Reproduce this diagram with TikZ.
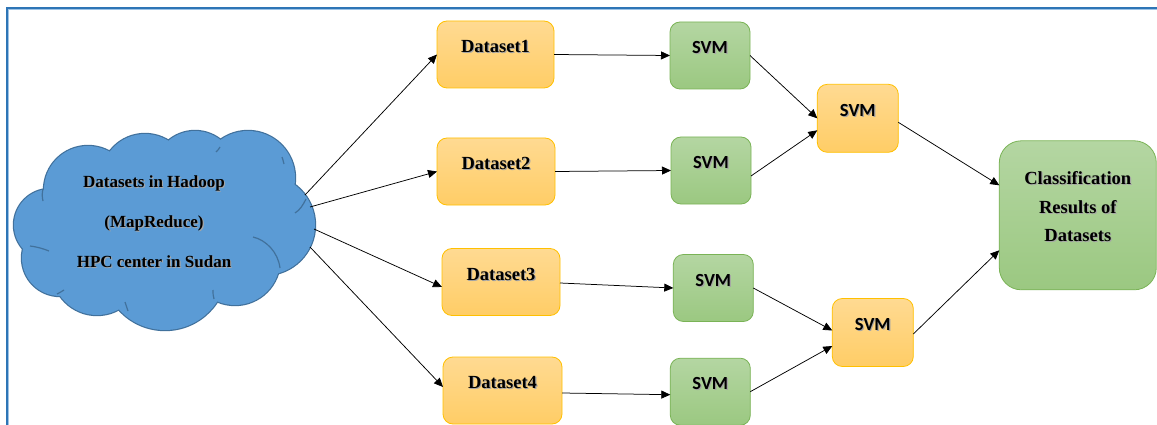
\documentclass[tikz,border=0pt]{standalone}
\usepackage{fontspec}
\setmainfont{Liberation Serif}
\newfontfamily\timesfont{Liberation Serif}
\newfontfamily\carlito{Carlito}
\usetikzlibrary{arrows.meta}

\definecolor{cloudfill}{HTML}{5B9BD5}
\definecolor{cloudline}{HTML}{41719C}
\definecolor{dsTop}{HTML}{FFDA92}
\definecolor{dsBot}{HTML}{FFCD66}
\definecolor{dsLine}{HTML}{FFC000}
\definecolor{svTop}{HTML}{B4D6A2}
\definecolor{svBot}{HTML}{9BC881}
\definecolor{svLine}{HTML}{7AB356}
\definecolor{frameblue}{HTML}{2E75B6}
\definecolor{framelight}{HTML}{9DC3E6}

% text with a soft drop shadow
\newcommand\shd[1]{\leavevmode\rlap{\kern1.1pt\raisebox{-1.1pt}{\textcolor{black!35}{#1}}}#1}

% the cloud as a union of puffs plus an inner filler
\newcommand\cloudpuffs{%
  (50,225) circle[radius=36pt]
  (88,190) circle[radius=44pt]
  (145,178) circle[radius=44pt]
  (195,172) circle[radius=41pt]
  (248,178) circle[radius=47pt]
  (265,225) circle[radius=50pt]
  (235,260) circle[radius=45pt]
  (165,268) circle[radius=62pt]
  (97,270) circle[radius=45pt]
  (60,258) circle[radius=38pt]
  (165,228) ellipse[x radius=110pt, y radius=60pt]}

\tikzset{
  box/.style={rectangle, rounded corners=10pt, inner sep=0pt, outer sep=0pt,
    line width=0.8pt, text height=14pt, text depth=18pt},
  dset/.style={box, draw=dsLine, top color=dsTop, bottom color=dsBot,
    minimum height=67pt, font=\fontsize{18.5}{22}\selectfont\timesfont\bfseries},
  svm/.style={box, draw=svLine, top color=svTop, bottom color=svBot,
    minimum width=80pt, minimum height=67pt,
    font=\fontsize{18.5}{22}\selectfont\carlito\bfseries},
  merge/.style={svm, draw=dsLine, top color=dsTop, bottom color=dsBot,
    minimum width=81pt, minimum height=68pt},
  result/.style={rectangle, rounded corners=22pt, inner sep=0pt, outer sep=0pt,
    line width=0.8pt, draw=svLine, top color=svTop, bottom color=svBot,
    minimum width=157pt, minimum height=149pt},
  arr/.style={-{Triangle[length=9pt,width=8pt]}, line width=0.75pt, black},
  hook/.style={draw=cloudline, line width=1.2pt},
}

\begin{document}
\begin{tikzpicture}[x=1pt,y=-1pt]
\useasboundingbox (0,0) rectangle (1157,425);
\clip (0,0) rectangle (1157,425);

% outer frame
\draw[framelight, line width=1pt] (8.8,440) -- (8.8,9.8) -- (1170,9.8);
\draw[frameblue, line width=1.6pt] (7,440) -- (7,8) -- (1170,8);

% cloud
\draw[cloudline, line width=2.4pt] \cloudpuffs;
\fill[cloudfill] \cloudpuffs;
\draw[hook] (253,237) .. controls (266,240) and (278,252) .. (280,268);
\draw[hook] (306,199) .. controls (303,205) and (300,210) .. (295,213);
\draw[hook] (30,246) .. controls (38,247) and (44,249) .. (49,251);
\draw[hook] (43,201) .. controls (42,197) and (42,193) .. (43,189);
\draw[hook] (57,294) .. controls (59,293) and (61,292) .. (64,290);
\draw[hook] (125,302) .. controls (126,305) and (127,308) .. (128,311);
\draw[hook] (213,290) .. controls (213,293) and (213,296) .. (214,299);
\draw[hook] (282,157) .. controls (283,159) and (283,161) .. (284,164);
\draw[hook] (220,147) .. controls (219,149) and (218,150) .. (216,152);
\coordinate (cloud) at (165,230);
\node[align=center, font=\fontsize{17}{40}\selectfont\timesfont\bfseries, inner sep=0pt]
  (cloudtext) at (154,222)
  {\shd{Datasets in Hadoop}\\\shd{(MapReduce)}\\\shd{HPC center in Sudan}};

% exits on the cloud rim
\coordinate (cA) at (305,195);
\coordinate (cB) at (310,207);
\coordinate (cC) at (314,229);
\coordinate (cD) at (310,247);

% datasets
\node[dset, minimum width=117pt] (d1) at (495.5,54.5) {\shd{Dataset1}};
\node[dset, minimum width=118pt] (d2) at (496,171.5) {\shd{Dataset2}};
\node[dset, minimum width=118pt] (d3) at (501,282) {\shd{Dataset3}};
\node[dset, minimum width=119pt] (d4) at (502.5,390.5) {\shd{Dataset4}};

% first-level classifiers
\node[svm] (s1) at (710,55.5) {\shd{SVM}};
\node[svm] (s2) at (711,170.5) {\shd{SVM}};
\node[svm] (s3) at (713.3,288) {\shd{SVM}};
\node[svm] (s4) at (710.3,391.7) {\shd{SVM}};

% merging classifiers
\node[merge] (m1) at (857.8,118.3) {\shd{SVM}};
\node[merge] (m2) at (872.8,332.5) {\shd{SVM}};

% final result
\node[result, label={[name=restext, align=center, inner sep=0pt,
    font=\fontsize{18.5}{28.3}\selectfont\timesfont\bfseries, yshift=8pt]center:%
    {\shd{Classification}\\\shd{Results of}\\\shd{Datasets}}}]
  (cl) at (1077.8,215.3) {};

% connectors
\draw[arr] (cA) -- (d1.west);
\draw[arr] (cB) -- (d2.west);
\draw[arr] (cC) -- ([yshift=-5pt]d3.west);
\draw[arr] (cD) -- ([yshift=3.5pt]d4.west);
\draw[arr] (d1.east) -- (s1.west);
\draw[arr] (d2.east) -- (s2.west);
\draw[arr] ([yshift=-1pt]d3.east) -- (s3.west);
\draw[arr] ([yshift=-2.5pt]d4.east) -- ([yshift=-3pt]s4.west);
\draw[arr] (s1.east) -- (m1.west);
\draw[arr] ([yshift=-5.5pt]s2.east) -- ([yshift=-12pt]m1.west);
\draw[arr] (s3.east) -- ([yshift=2pt]m2.west);
\draw[arr] (s4.east) -- ([yshift=-13.5pt]m2.west);
\draw[arr] ([yshift=-4pt]m1.east) -- ([yshift=30pt]cl.west);
\draw[arr] ([yshift=-1.5pt]m2.east) -- ([yshift=-35pt]cl.west);
\end{tikzpicture}
\end{document}
